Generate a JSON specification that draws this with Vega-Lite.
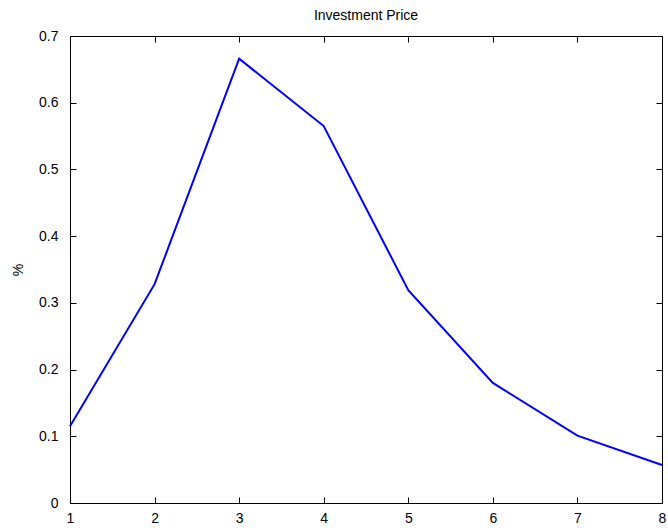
{
  "$schema": "https://vega.github.io/schema/vega-lite/v6.json",
  "width": 592,
  "height": 467,
  "autosize": {"type": "none"},
  "padding": {"left": 70, "top": 36, "right": 6, "bottom": 25},
  "background": "white",
  "title": {"text": "Investment Price", "fontSize": 14, "font": "Liberation Sans", "fontWeight": "normal", "color": "black", "offset": 6, "anchor": "middle"},
  "config": {
    "view": {"stroke": "black", "strokeWidth": 1},
    "axis": {"labelFont": "Liberation Sans", "titleFont": "Liberation Sans", "labelFontSize": 14, "titleFontSize": 14, "titleFontWeight": "normal", "labelColor": "black", "titleColor": "black", "tickColor": "black", "grid": false, "domain": false, "tickWidth": 1}
  },
  "data": {"values": [
    {"x": 1, "y": 0.115},
    {"x": 2, "y": 0.328},
    {"x": 3, "y": 0.666},
    {"x": 4, "y": 0.565},
    {"x": 5, "y": 0.319},
    {"x": 6, "y": 0.180},
    {"x": 7, "y": 0.101},
    {"x": 8, "y": 0.057}
  ]},
  "layer": [
    {
      "mark": {"type": "line", "color": "#0000ff", "strokeWidth": 2},
      "encoding": {
        "x": {"field": "x", "type": "quantitative", "scale": {"domain": [1, 8], "nice": false, "zero": false}, "axis": {"orient": "bottom", "title": null, "offset": -6, "tickSize": 6, "values": [1,2,3,4,5,6,7,8], "labelPadding": 8, "labelFlush": false}},
        "y": {"field": "y", "type": "quantitative", "scale": {"domain": [0, 0.7], "nice": false}, "axis": {"orient": "left", "title": "%", "offset": -6, "tickSize": 6, "format": ".1~f", "values": [0,0.1,0.2,0.3,0.4,0.5,0.6,0.7], "labelPadding": 12, "titlePadding": 13, "labelFlush": false}}
      }
    },
    {
      "mark": {"type": "line", "strokeOpacity": 0},
      "encoding": {
        "x": {"field": "x", "type": "quantitative", "scale": {"domain": [1, 8], "nice": false, "zero": false}, "axis": {"orient": "top", "title": null, "labels": false, "tickSize": -6, "values": [1,2,3,4,5,6,7,8]}},
        "y": {"field": "y", "type": "quantitative", "scale": {"domain": [0, 0.7], "nice": false}, "axis": {"orient": "right", "title": null, "labels": false, "tickSize": -6, "values": [0,0.1,0.2,0.3,0.4,0.5,0.6,0.7]}}
      }
    }
  ],
  "resolve": {"axis": {"x": "independent", "y": "independent"}}
}
